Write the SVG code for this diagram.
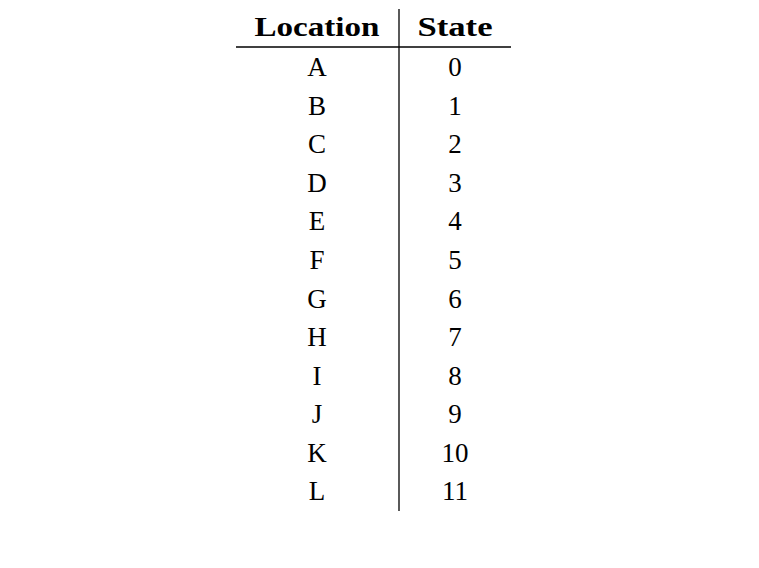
<svg xmlns="http://www.w3.org/2000/svg" width="759" height="568" viewBox="0 0 759 568">
<style>
.h{font-family:"Liberation Serif",serif;font-weight:bold;font-size:27px;text-anchor:middle;fill:#000}
.c{font-family:"Liberation Serif",serif;font-size:27px;text-anchor:middle;fill:#000}
.r{stroke:#000;stroke-width:1.3;fill:none}
</style>
<rect width="759" height="568" fill="#fff"/>
<g id="rules">
<line class="r" x1="236" y1="47" x2="511" y2="47"/>
<line class="r" x1="399" y1="9" x2="399" y2="511"/>
</g>
<g id="header">
<text class="h" x="317" y="36" textLength="125" lengthAdjust="spacingAndGlyphs">Location</text>
<text class="h" x="455" y="36" textLength="75" lengthAdjust="spacingAndGlyphs">State</text>
</g>
<g id="location">
<text class="c" x="317" y="76">A</text>
<text class="c" x="317" y="114.5">B</text>
<text class="c" x="317" y="153">C</text>
<text class="c" x="317" y="191.5">D</text>
<text class="c" x="317" y="230">E</text>
<text class="c" x="317" y="269">F</text>
<text class="c" x="317" y="307.5">G</text>
<text class="c" x="317" y="346">H</text>
<text class="c" x="317" y="384.5">I</text>
<text class="c" x="317" y="423">J</text>
<text class="c" x="317" y="461.5">K</text>
<text class="c" x="317" y="500">L</text>
</g>
<g id="state">
<text class="c" x="455" y="76">0</text>
<text class="c" x="455" y="114.5">1</text>
<text class="c" x="455" y="153">2</text>
<text class="c" x="455" y="191.5">3</text>
<text class="c" x="455" y="230">4</text>
<text class="c" x="455" y="269">5</text>
<text class="c" x="455" y="307.5">6</text>
<text class="c" x="455" y="346">7</text>
<text class="c" x="455" y="384.5">8</text>
<text class="c" x="455" y="423">9</text>
<text class="c" x="455" y="461.5">10</text>
<text class="c" x="455" y="500">11</text>
</g>
</svg>
